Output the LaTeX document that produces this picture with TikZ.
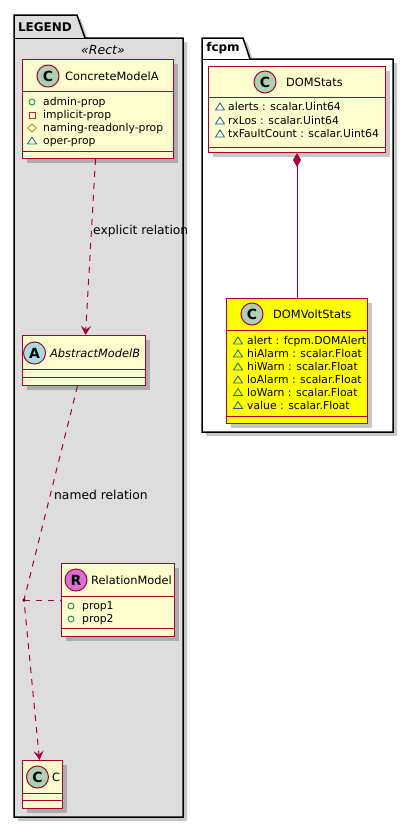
\documentclass[tikz,border=0pt]{standalone}
\usepackage{fontspec}
\setmainfont{DejaVu Sans}
\usetikzlibrary{arrows.meta,shadows,calc}
\definecolor{umlborder}{HTML}{A80036}
\definecolor{umlfill}{HTML}{FEFECE}
\definecolor{cfill}{HTML}{ADD1B2}
\definecolor{afill}{HTML}{A9DCDF}
\definecolor{rfill}{HTML}{DA70D6}
\definecolor{pkgfill}{HTML}{DDDDDD}
\definecolor{pubcol}{HTML}{038048}
\definecolor{privcol}{HTML}{C82930}
\definecolor{protcol}{HTML}{B38D22}
\definecolor{pkgcol}{HTML}{1963A0}
\definecolor{yellowfill}{HTML}{FFFF00}
\tikzset{
  umlshadow/.style={drop shadow={shadow xshift=4pt, shadow yshift=-4pt, fill=black, opacity=0.22}},
  classbox/.style={draw=umlborder, fill=umlfill, line width=1pt, rectangle, inner sep=0pt, anchor=north west, umlshadow},
  sepline/.style={draw=umlborder, line width=1pt},
  badge/.style={circle, draw=umlborder, line width=1pt, minimum size=22pt, inner sep=0pt, font=\fontsize{14}{14}\selectfont\bfseries},
  cname/.style={anchor=west, inner sep=0pt, text height=9pt, text depth=1pt, font=\fontsize{11.4}{13}\selectfont},
  attr/.style={anchor=west, inner sep=0pt, text height=8pt, text depth=1pt, font=\fontsize{10.8}{12}\selectfont},
  rel/.style={draw=umlborder, line width=1pt, dash pattern=on 6pt off 6pt},
  reltip/.style={-{Stealth[length=9pt, width=10pt, inset=3.5pt]}},
  elabel/.style={anchor=west, inner sep=0pt, text height=9pt, text depth=1pt, font=\fontsize{12.3}{14}\selectfont},
  pkgbox/.style={draw=black, line width=1.5pt, umlshadow},
  pkgtitle/.style={inner sep=0pt, font=\fontsize{12}{14}\selectfont\bfseries},
  pics/pubi/.style={code={\draw[pubcol, line width=0.8pt] (0,0) circle (3);}},
  pics/privi/.style={code={\draw[privcol, line width=0.8pt] (-3,-3) rectangle (3,3);}},
  pics/proti/.style={code={\draw[protcol, line width=0.8pt] (-4,0) -- (0,-4) -- (4,0) -- (0,4) -- cycle;}},
  pics/pkgi/.style={code={\draw[pkgcol, line width=0.8pt] (-4.5,3) -- (4.5,3) -- (0,-4) -- cycle;}}
}
\begin{document}
\begin{tikzpicture}[x=1pt,y=-1pt]
\useasboundingbox (0,0) rectangle (414,827);
\fill[white] (0,0) rectangle (414,827);

% packages
\draw[pkgbox, fill=pkgfill] (14,38) -- (14,15) -- (77,15) -- (85,38) -- (183,38) -- (183,817) -- (14,817) -- cycle;
\draw[black, line width=1pt] (14,38) -- (85,38);
\node[pkgtitle] (legendt) at (45,27) {LEGEND};
\node[inner sep=0pt, font=\fontsize{12.5}{14}\selectfont\itshape] (stereo) at (103,50) {«Rect»};

\draw[pkgbox, fill=white] (202,59) -- (202,38) -- (243,38) -- (250,59) -- (393,59) -- (393,432) -- (202,432) -- cycle;
\draw[black, line width=1pt] (202,59) -- (250,59);
\node[pkgtitle] (fcpmt) at (223,48.5) {fcpm};

% ConcreteModelA
\node[classbox, minimum width=151pt, minimum height=99pt] (cma) at (22,59) {};
\draw[sepline] (22,91) -- (173,91);
\draw[sepline] (22,151) -- (173,151);
\node[badge, fill=cfill] (cmab) at (48,76) {C};
\node[cname] (cman) at (65,76) {ConcreteModelA};
\pic at (32,102) {pubi};
\node[attr] (cma1) at (43,102) {admin-prop};
\pic at (32,115) {privi};
\node[attr] (cma2) at (43,115) {implicit-prop};
\pic at (32,128) {proti};
\node[attr] (cma3) at (43,128) {naming-readonly-prop};
\pic at (32,141) {pkgi};
\node[attr] (cma4) at (43,141) {oper-prop};

% AbstractModelB
\node[classbox, minimum width=123pt, minimum height=50pt] (amb) at (22,335) {};
\draw[sepline] (22,369) -- (145,369);
\draw[sepline] (22,377) -- (145,377);
\node[badge, fill=afill] (ambb) at (34.5,353) {A};
\node[cname, font=\fontsize{11.4}{13}\selectfont\itshape] (ambn) at (50,353) {AbstractModelB};

% RelationModel
\node[classbox, minimum width=113pt, minimum height=73pt] (rm) at (61,563) {};
\draw[sepline] (61,596) -- (174,596);
\draw[sepline] (61,628) -- (174,628);
\node[badge, fill=rfill] (rmb) at (76,580) {R};
\node[cname] (rmn) at (91,580) {RelationModel};
\pic at (71,606) {pubi};
\node[attr] (rm1) at (82,606) {prop1};
\pic at (71,619) {pubi};
\node[attr] (rm2) at (82,619) {prop2};

% C
\node[classbox, minimum width=40pt, minimum height=48pt] (cc) at (22,760) {};
\draw[sepline] (22,793) -- (62,793);
\draw[sepline] (22,800) -- (62,800);
\node[badge, fill=cfill] (ccb) at (37.5,777) {C};
\node[cname] (ccn) at (52,777) {C};

% DOMStats
\node[classbox, minimum width=177pt, minimum height=86pt] (doms) at (208,66) {};
\draw[sepline] (208,97) -- (385,97);
\draw[sepline] (208,147) -- (385,147);
\node[badge, fill=cfill] (domsb) at (265,82) {C};
\node[cname] (domsn) at (286,82) {DOMStats};
\pic at (220,107) {pkgi};
\node[attr] (doms1) at (228,107) {alerts : scalar.Uint64};
\pic at (220,121) {pkgi};
\node[attr] (doms2) at (228,121) {rxLos : scalar.Uint64};
\pic at (220,134) {pkgi};
\node[attr] (doms3) at (228,134) {txFaultCount : scalar.Uint64};

% DOMVoltStats
\node[classbox, fill=yellowfill, minimum width=141pt, minimum height=125pt] (domv) at (226,298) {};
\draw[sepline] (226,330) -- (367,330);
\draw[sepline] (226,416) -- (367,416);
\node[badge, fill=cfill] (domvb) at (252,314) {C};
\node[cname] (domvn) at (273,314) {DOMVoltStats};
\pic at (238,341) {pkgi};
\node[attr] (domv1) at (247,341) {alert : fcpm.DOMAlert};
\pic at (238,354) {pkgi};
\node[attr] (domv2) at (247,354) {hiAlarm : scalar.Float};
\pic at (238,367) {pkgi};
\node[attr] (domv3) at (247,367) {hiWarn : scalar.Float};
\pic at (238,380) {pkgi};
\node[attr] (domv4) at (247,380) {loAlarm : scalar.Float};
\pic at (238,392.5) {pkgi};
\node[attr] (domv5) at (247,392.5) {loWarn : scalar.Float};
\pic at (238,405.5) {pkgi};
\node[attr] (domv6) at (247,405.5) {value : scalar.Float};

% relations
\draw[rel, reltip] ([xshift=-2.5pt]cma.south) -- ([xshift=1.5pt]amb.north);
\node[elabel] (lab1) at (93,230) {explicit relation};

\node[circle, fill=black, inner sep=0pt, minimum size=3.5pt] (jn) at (24,600) {};
\draw[rel, reltip] ([xshift=-6.5pt]amb.south) -- (jn.center) -- ([xshift=-3pt]cc.north);
\draw[rel] (jn.center) -- (rm.west);
\node[elabel] (lab2) at (54,495) {named relation};

\draw[umlborder, line width=1pt, {Diamond[length=14pt, width=8pt]}-] (doms.south) -- (domv.north);
\end{tikzpicture}
\end{document}
